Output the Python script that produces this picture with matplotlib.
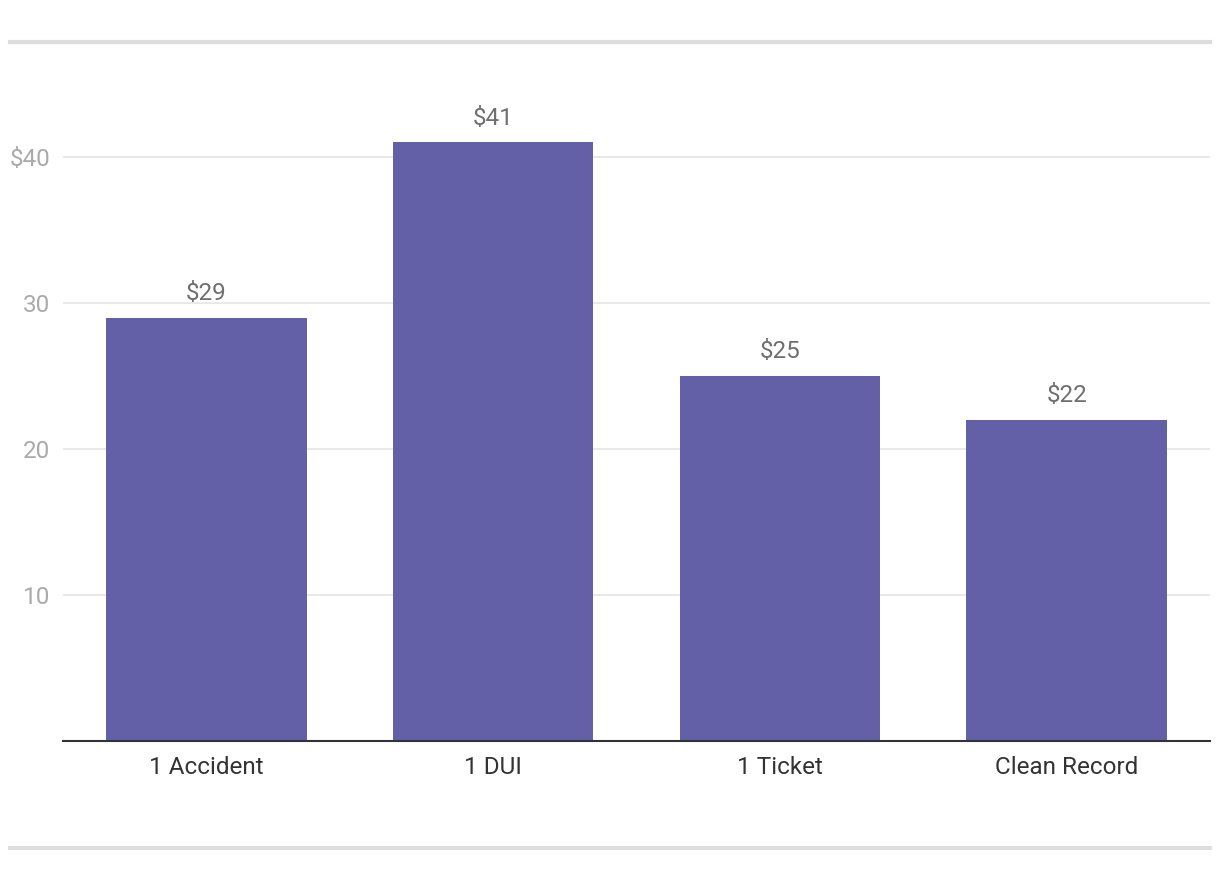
import matplotlib.pyplot as plt
from matplotlib.lines import Line2D

categories = ["1 Accident", "1 DUI", "1 Ticket", "Clean Record"]
values = [29, 41, 25, 22]
value_labels = ["$29", "$41", "$25", "$22"]
y_ticks = [10, 20, 30, 40]
y_tick_labels = ["10", "20", "30", "$40"]

plt.rcParams["font.family"] = ["Roboto", "DejaVu Sans"]

fig = plt.figure(figsize=(12.2, 8.8), dpi=100)
ax = fig.add_axes([63 / 1220, 139 / 880, 1147 / 1220, 657 / 880])

x = range(len(categories))
bars = ax.bar(x, values, width=0.70, color="#6460a7", zorder=2)
for b, lab in zip(bars, value_labels):
    ax.annotate(lab, (b.get_x() + b.get_width() / 2, b.get_height()),
                xytext=(0, 9), textcoords="offset points",
                ha="center", va="bottom", fontsize=17.5, color="#6f6f6f")

ax.set_xlim(-0.5, 3.5)
ax.set_ylim(0, 45)
ax.set_xticks(list(x))
ax.set_xticklabels(categories, fontsize=17.5, color="#333333")
ax.set_yticks(y_ticks)
ax.set_yticklabels(y_tick_labels, fontsize=17.5, color="#aaaaaa")
ax.tick_params(axis="x", length=0, pad=10.5)
ax.tick_params(axis="y", length=0, pad=9)
ax.grid(axis="y", color="#e5e5e5", linewidth=1.2, zorder=0)
for s in ["top", "right", "left"]:
    ax.spines[s].set_visible(False)
ax.spines["bottom"].set_color("#333333")
ax.spines["bottom"].set_linewidth(1.5)
ax.spines["bottom"].set_zorder(3)

# grey rules above and below the chart
for yy in [838 / 880, 32 / 880]:
    fig.add_artist(Line2D([10 / 1220, 1210 / 1220], [yy, yy],
                          color="#dddddd", linewidth=3, transform=fig.transFigure))

fig.savefig("out.png", dpi=100)
